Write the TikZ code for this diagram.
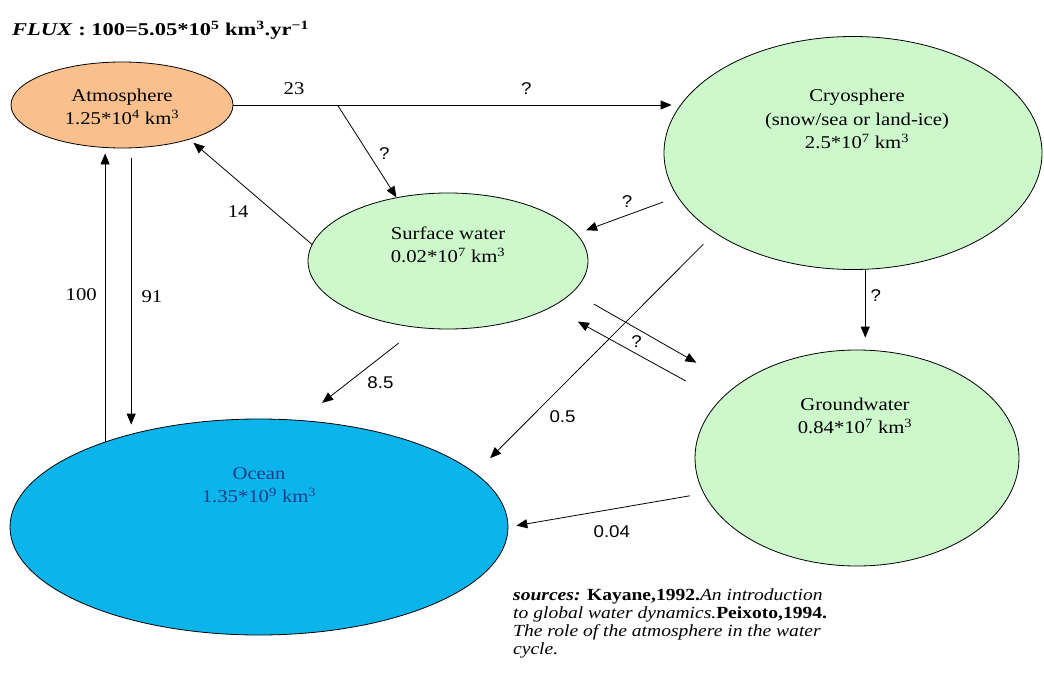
\documentclass[tikz,border=0pt]{standalone}
\usepackage{fontspec}
\setmainfont{Liberation Serif}[FakeStretch=1.15]
\setsansfont{Liberation Sans}[FakeStretch=1.1]
\newfontfamily\titlefont{Liberation Serif}[FakeStretch=1.25]
\usepackage{xcolor}
\usepackage{tikz}
\usetikzlibrary{arrows.meta,positioning,calc,shapes.geometric}
\definecolor{atmorange}{HTML}{F9C08E}
\definecolor{poolgreen}{HTML}{CCF8CC}
\definecolor{oceanblue}{HTML}{0BB5EC}
\definecolor{oceanink}{HTML}{1F3C88}

\begin{document}
\begin{tikzpicture}[x=1pt,y=1pt,
  pool/.style={ellipse,draw,line width=0.8pt,inner sep=0pt},
  pooltext/.style={align=center,font=\fontsize{18}{23.5}\selectfont},
  flow/.style={draw,line width=0.8pt,-{Triangle[length=11pt,width=9pt]}},
  numlbl/.style={font=\fontsize{18}{20}\selectfont,inner sep=2pt},
  qlbl/.style={font=\sffamily\fontsize{17}{20}\selectfont,inner sep=2pt}]
\useasboundingbox (0,0) rectangle (1044,-677);

\node[anchor=west,inner sep=0pt,font=\titlefont\bfseries\fontsize{18}{20}\selectfont] (flux) at (12,-30)
  {\textit{FLUX} : 100=5.05*10\textsuperscript{5} km\textsuperscript{3}.yr\textsuperscript{−1}};

% reservoirs
\node[pool,fill=atmorange,minimum width=222pt,minimum height=86pt] (atm) at (122,-105) {};
\node[pool,fill=poolgreen,minimum width=378pt,minimum height=233pt] (cryo) at (853,-153) {};
\node[pool,fill=poolgreen,minimum width=280pt,minimum height=136pt] (surf) at (448,-261) {};
\node[pool,fill=poolgreen,minimum width=324pt,minimum height=216pt] (ground) at (857,-458) {};
\node[pool,fill=oceanblue,minimum width=498pt,minimum height=216pt] (ocean) at (259,-527) {};

\node[pooltext] (atmtxt) at ($(atm)+(0,-2)$) {Atmosphere\\1.25*10\textsuperscript{4} km\textsuperscript{3}};
\node[pooltext] (cryotxt) at ($(cryo)+(4,34)$) {Cryosphere\\(snow/sea or land-ice)\\2.5*10\textsuperscript{7} km\textsuperscript{3}};
\node[pooltext] (surftxt) at ($(surf)+(0,16)$) {Surface water\\0.02*10\textsuperscript{7} km\textsuperscript{3}};
\node[pooltext] (groundtxt) at ($(ground)+(-2,42)$) {Groundwater\\0.84*10\textsuperscript{7} km\textsuperscript{3}};
\node[pooltext,text=oceanink] (oceantxt) at ($(ocean)+(0,42)$) {Ocean\\1.35*10\textsuperscript{9} km\textsuperscript{3}};

% fluxes
\draw[flow,shorten >=-8pt] (atm.east) -- coordinate[pos=0.242] (fork)
  node[numlbl,pos=0.141,above=8pt] {23} node[qlbl,pos=0.681,above=8pt] {?} (atm.east -| cryo.west);
\draw[flow] (fork) -- node[qlbl,pos=0.53,right=8pt] {?} (surf.129);
\draw[flow,shorten >=5pt] (surf.173) -- node[numlbl,pos=0.45,below left=6pt and 6pt] {14} (atm.-27);
\draw[flow,shorten >=5pt] (ocean.151) -- node[numlbl,left=6pt] {100} (ocean.151 |- atm.south);
\draw[flow,shorten <=10pt,shorten >=-6pt] (atm.-78) -- node[numlbl,pos=0.55,right=8pt] {91} (atm.-78 |- ocean.north);
\draw[flow,shorten <=15pt,shorten >=10pt] (cryo.194) -- node[qlbl,pos=0.5,above=5pt] {?} (surf.12);
\draw[flow,shorten <=16pt,shorten >=21pt] (cryo.210) -- node[qlbl,pos=0.767,right=16pt] {0.5} (ocean.14);
\draw[flow,shorten >=12pt] (cryo.-84) -- node[qlbl,pos=0.32,right=3pt] {?} (cryo.-84 |- ground.north);
\draw[flow,shorten <=24pt,shorten >=46pt] (surf.-14) -- node[qlbl,pos=0.39,below=5pt] {?} (ground.149);
\draw[flow,shorten <=39pt,shorten >=30pt] (ground.157) -- (surf.-24);
\draw[flow,shorten <=25pt,shorten >=28pt] (surf.246) -- node[qlbl,pos=0.45,below right=5pt and 0pt] {8.5} (ocean.69);
\draw[flow,shorten <=14pt,shorten >=8pt] (ground.193) -- node[qlbl,pos=0.47,below=14pt] {0.04} (ocean.east);

\node[anchor=north west,align=left,inner sep=0pt,font=\fontsize{17}{18.3}\selectfont] (refs) at (513,-588)
  {\textbf{\textit{sources:}} \textbf{Kayane,1992.}\textit{An introduction}\\
   \textit{to global water dynamics.}\textbf{Peixoto,1994.}\\
   \textit{The role of the atmosphere in the water}\\
   \textit{cycle.}};
\end{tikzpicture}
\end{document}
